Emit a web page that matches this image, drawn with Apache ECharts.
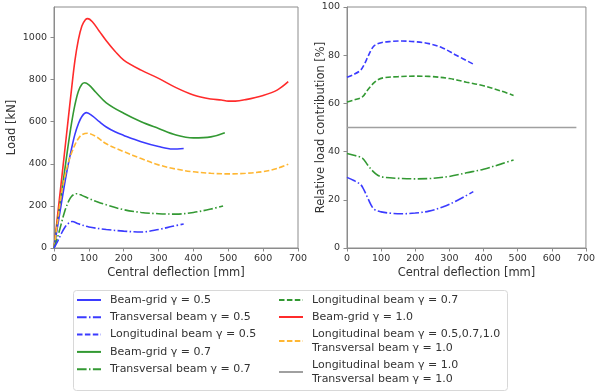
<!DOCTYPE html>
<html><head><meta charset="utf-8">
<script src="https://cdn.jsdelivr.net/npm/echarts@6/dist/echarts.min.js"></script>
<style>html,body{margin:0;padding:0;background:#fff}#c{width:598px;height:392px}</style>
</head><body><div id="c"></div>
<script>
// ---- Left panel: Load [kN] vs central deflection [mm] ----
const bg05_x = [0,10,20,30,40,50,60,70,80,93,110,130,150,175,200,250,300,340,372];
const bg05_y = [0,100,200,300,390,470,540,590,625,643,628,600,575,552,535,505,482,470,473];
const tr05_x = [0,10,20,30,40,52,70,100,150,200,250,300,340,372];
const tr05_y = [0,30,65,95,115,126,115,100,88,80,76,88,103,114];
const bg07_x = [0,10,20,30,40,50,60,70,80,88,100,120,150,200,250,300,350,400,450,490];
const bg07_y = [0,120,240,360,480,590,680,745,778,785,775,740,690,640,600,568,537,523,528,548];
const tr07_x = [0,10,20,30,40,50,65,80,100,120,150,200,250,300,350,400,450,485];
const tr07_y = [0,50,110,170,215,245,258,250,235,222,205,182,169,163,161,169,185,200];
const bg10_x = [0,10,20,30,40,50,60,70,80,90,97,110,130,150,175,200,250,300,350,400,450,480,500,520,550,600,640,672];
const bg10_y = [0,150,300,450,600,750,890,990,1055,1085,1090,1075,1030,985,935,893,845,806,762,727,708,703,698,698,705,725,750,790];
const lgAll_x = [0,10,20,30,40,50,60,70,80,96,120,150,200,250,300,350,400,450,500,550,600,640,672];
const lgAll_y = [0,120,245,330,400,450,490,520,538,545,530,495,458,425,395,375,362,355,352,355,363,378,398];

// ---- Right panel: relative load contribution [%] ----
const rl05_x = [0,20,40,50,60,70,80,100,130,160,200,240,280,320,370];
const rl05_y = [70.8,72,73.8,76,79,82,84,85.2,85.7,85.9,85.6,84.8,83,80,76.3];
const rt05_x = [0,20,40,50,60,70,80,100,130,160,200,240,280,320,370];
const rt05_y = [29.3,28,26.3,24,21,18,16,15,14.4,14.2,14.5,15.3,17,19.5,23.4];
const rl07_x = [0,20,45,60,75,90,110,150,200,240,300,350,400,450,488];
const rl07_y = [60.6,61.4,62.7,65.5,68,69.8,70.7,71.1,71.3,71.2,70.3,68.8,67.3,65.2,63.3];
const rt07_x = [0,20,45,60,75,90,110,150,200,240,300,350,400,450,488];
const rt07_y = [39.2,38.5,37.3,34.5,32,30.2,29.3,28.9,28.7,28.8,29.7,31.2,32.7,34.8,36.5];
const r10_x = [0,672];
const r10_y = [50,50];

const leftYTicks = [0,200,400,600,800,1000];

const N_BG05 = 'Beam-grid γ = 0.5';
const N_TR05 = 'Transversal beam γ = 0.5';
const N_LG05 = 'Longitudinal beam γ = 0.5';
const N_BG07 = 'Beam-grid γ = 0.7';
const N_TR07 = 'Transversal beam γ = 0.7';
const N_LG07 = 'Longitudinal beam γ = 0.7';
const N_BG10 = 'Beam-grid γ = 1.0';
const N_ORG = 'Longitudinal beam γ = 0.5,0.7,1.0\nTransversal beam γ = 1.0';
const N_GRY = 'Longitudinal beam γ = 1.0\nTransversal beam γ = 1.0';

const BLUE='#3b3bff', GREEN='#339933', RED='#ff2b2b', ORANGE='#ffb733', GRAY='#a0a0a0';
const DASH=[5.5,2.4], DASHDOT=[9.6,2.4,1.5,2.4];

function zip(xs, ys){ return xs.map((x,i)=>[x, ys[i]]); }
function line(name, xs, ys, color, type, idx){
  return {name, type:'line', data:zip(xs,ys), xAxisIndex:idx, yAxisIndex:idx,
    symbol:'none', smooth:0.35, animation:false,
    lineStyle:{color, width:1.6, type}, itemStyle:{color}};
}

const FONT = 'DejaVu Sans';
const TXT = '#333';
const AX = '#8c8c8c';

function xAxis(idx){
  return {type:'value', gridIndex:idx, min:0, max:700, interval:100,
    name:'Central deflection [mm]', nameLocation:'middle', nameGap:19, nameMoveOverlap:false,
    nameTextStyle:{fontFamily:FONT, fontSize:11.5, color:TXT},
    axisLine:{show:true, lineStyle:{color:AX, width:1}},
    axisTick:{show:true, length:3.5, lineStyle:{color:AX}},
    axisLabel:{fontFamily:FONT, fontSize:9.5, color:TXT, margin:6},
    splitLine:{show:false}};
}

function legendCfg(left, names, gap){
  return {orient:'vertical', left, top:293, height:150, itemWidth:24, itemHeight:14, itemGap:gap,
    selectedMode:false, padding:0,
    itemStyle:{opacity:0, borderWidth:0},
    textStyle:{fontFamily:FONT, fontSize:11, color:TXT, lineHeight:14, padding:[0,0,0,4]},
    data:names};
}

const option = {
  backgroundColor:'#fff',
  animation:false,
  grid:[
    {left:54, top:7, width:244, height:241, show:true, borderColor:AX, borderWidth:1},
    {left:347, top:7, width:245, height:241, show:true, borderColor:AX, borderWidth:1}
  ],
  xAxis:[xAxis(0), xAxis(1)],
  yAxis:[
    {type:'value', gridIndex:0, min:0, max:1145,
      name:'Load [kN]', nameLocation:'middle', nameGap:36, nameMoveOverlap:false,
      nameTextStyle:{fontFamily:FONT, fontSize:11.5, color:TXT},
      axisLine:{show:true, lineStyle:{color:AX}},
      axisTick:{show:true, length:3.5, lineStyle:{color:AX}, customValues:leftYTicks},
      axisLabel:{fontFamily:FONT, fontSize:9.5, color:TXT, margin:7, customValues:leftYTicks,
        formatter:v=>String(v)},
      splitLine:{show:false}},
    {type:'value', gridIndex:1, min:0, max:100, interval:20,
      name:'Relative load contribution [%]', nameLocation:'middle', nameGap:19.5, nameMoveOverlap:false,
      nameTextStyle:{fontFamily:FONT, fontSize:11.5, color:TXT},
      axisLine:{show:true, lineStyle:{color:AX}},
      axisTick:{show:true, length:3.5, lineStyle:{color:AX}},
      axisLabel:{fontFamily:FONT, fontSize:9.5, color:TXT, margin:7},
      splitLine:{show:false}}
  ],
  legend:[
    legendCfg(76, [N_BG05, N_TR05, N_LG05, N_BG07, N_TR07], 3.3),
    legendCfg(278, [N_LG07, N_BG10, N_ORG, N_GRY], 3)
  ],
  graphic:[
    {type:'rect', left:73, top:290, z:-1, silent:true,
      shape:{width:434, height:100, r:3},
      style:{fill:'#fff', stroke:'#d8d8d8', lineWidth:1}}
  ],
  series:[
    line(N_BG10, bg10_x, bg10_y, RED, 'solid', 0),
    line(N_BG07, bg07_x, bg07_y, GREEN, 'solid', 0),
    line(N_BG05, bg05_x, bg05_y, BLUE, 'solid', 0),
    line(N_ORG, lgAll_x, lgAll_y, ORANGE, DASH, 0),
    line(N_TR07, tr07_x, tr07_y, GREEN, DASHDOT, 0),
    line(N_TR05, tr05_x, tr05_y, BLUE, DASHDOT, 0),
    line(N_LG05, rl05_x, rl05_y, BLUE, DASH, 1),
    line(N_TR05, rt05_x, rt05_y, BLUE, DASHDOT, 1),
    line(N_LG07, rl07_x, rl07_y, GREEN, DASH, 1),
    line(N_TR07, rt07_x, rt07_y, GREEN, DASHDOT, 1),
    line(N_GRY, r10_x, r10_y, GRAY, 'solid', 1)
  ]
};
const chart = echarts.init(document.getElementById('c'), null, {renderer:'canvas'});
chart.setOption(option);
</script>
</body></html>
